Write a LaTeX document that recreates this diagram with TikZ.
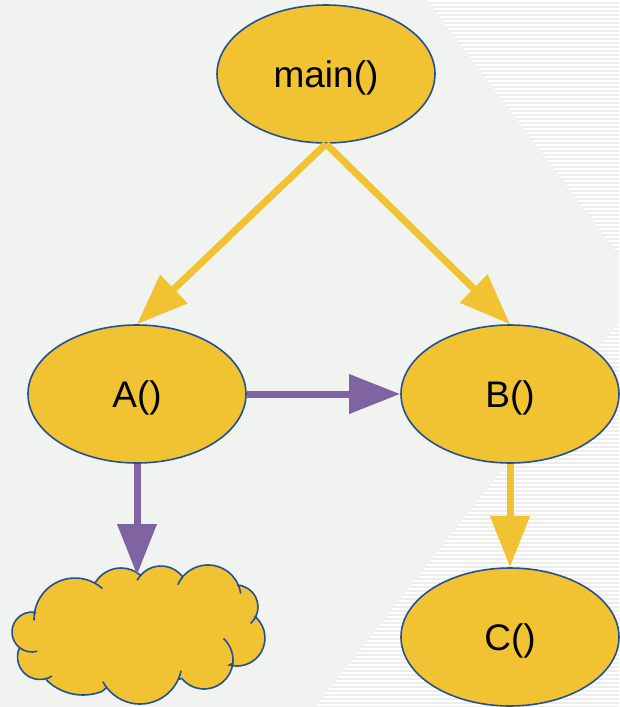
\documentclass[tikz,border=0pt]{standalone}
\usepackage{fontspec}
\setmainfont{Liberation Sans}
\usetikzlibrary{shapes.geometric,arrows.meta,calc}
\definecolor{bgcol}{HTML}{F1F3F0}
\definecolor{stripecol}{HTML}{EDEEEC}
\definecolor{callfill}{HTML}{F1C232}
\definecolor{callline}{HTML}{24528F}
\definecolor{callpurple}{HTML}{8064A2}
\tikzset{
  fn/.style={ellipse, draw=callline, line width=1.6pt, fill=callfill,
    minimum width=218pt, minimum height=138pt, inner sep=0pt,
    text height=35pt, text depth=7.6pt,
    font=\fontsize{37}{40}\selectfont},
  yarrow/.style={draw=callfill, line width=7pt,
    -{Triangle[length=51pt,width=38pt]}},
  parrow/.style={draw=callpurple, line width=7pt,
    -{Triangle[length=51pt,width=38pt]}},
  puffline/.style={draw=callline, line width=1.6pt},
}
% one puff of the cloud: centre x, centre y, radius, start angle, end angle
\newcommand\puffarc[5]{-- ($(#1,#2)+(#4:#3pt)$) arc[start angle=#4, end angle=#5, radius=#3pt]}
\newcommand\pufftail[5]{\draw[puffline] ($(#1,#2)+(#4:#3pt)$) arc[start angle=#4, end angle=#5, radius=#3pt];}
\begin{document}
\begin{tikzpicture}[x=1pt,y=-1pt]
\useasboundingbox (0,0) rectangle (619,707);
% background with striped corners
\fill[bgcol] (0,0) rectangle (619,707);
\begin{scope}
  \clip (427,0) -- (619,0) -- (619,255) -- cycle
        (619,322) -- (619,707) -- (315,707) -- cycle;
  \fill[stripecol] (300,0) rectangle (619,707);
  \foreach \y in {0,4,...,708} {
    \fill[white] (300,\y) rectangle (619,\y+2);
  }
\end{scope}
% call graph nodes
\node[fn] (main) at (326,74) {main()};
\node[fn] (A) at (137,394) {A()};
\node[fn] (B) at (510,394) {B()};
\node[fn] (C) at (510,637) {C()};
% the cloud: an outline of circular puffs
\fill[callfill] (35,613)
  \puffarc{75}{619}{41}{171.5}{62.8}
  \puffarc{121}{598}{30}{149.3}{49}
  \puffarc{161}{593}{27}{138}{37.3}
  \puffarc{208}{598}{33}{141.1}{22.5}
  \puffarc{236}{607}{22}{87.3}{-24.2}
  \puffarc{237}{638}{28}{49.2}{-105.6}
  \puffarc{204}{660}{29}{-6.6}{-140.2}
  \puffarc{140}{662}{42}{-24.2}{-142.6}
  \puffarc{83}{643}{52}{-68.4}{-134.2}
  \puffarc{40}{657}{22.5}{-73.1}{-206.6}
  \puffarc{32}{632}{20}{231.3}{81}
  -- cycle;
\draw[puffline] (35,613)
  \puffarc{75}{619}{41}{171.5}{62.8}
  \puffarc{121}{598}{30}{149.3}{49}
  \puffarc{161}{593}{27}{138}{37.3}
  \puffarc{208}{598}{33}{141.1}{22.5}
  \puffarc{236}{607}{22}{87.3}{-24.2}
  \puffarc{237}{638}{28}{49.2}{-105.6}
  \puffarc{204}{660}{29}{-6.6}{-140.2}
  \puffarc{140}{662}{42}{-24.2}{-142.6}
  \puffarc{83}{643}{52}{-68.4}{-134.2}
  \puffarc{40}{657}{22.5}{-73.1}{-206.6}
  \puffarc{32}{632}{20}{231.3}{81}
  -- cycle;
% inner ends of the puffs
\pufftail{75}{619}{41}{62.8}{48}
\pufftail{75}{619}{41}{171.5}{182}
\pufftail{161}{593}{27}{138}{152}
\pufftail{208}{598}{33}{141.1}{156}
\pufftail{208}{598}{33}{22.5}{8}
\pufftail{236}{607}{22}{-24.2}{-48}
\pufftail{204}{660}{29}{-6.6}{48}
\pufftail{140}{662}{42}{-24.2}{-12}
\pufftail{140}{662}{42}{-142.6}{-152}
\pufftail{40}{657}{22.5}{-73.1}{-58}
\pufftail{32}{632}{20}{231.3}{285}
\coordinate (cloudtop) at (139,575);
% calls
\draw[yarrow] (main.south) -- (A.north);
\draw[yarrow] (main.south) -- (B.north);
\draw[yarrow] (B.south) -- (C.north);
\draw[parrow] (A.east) -- (B.west);
\draw[parrow] (A.south) -- (A.south |- cloudtop);
\end{tikzpicture}
\end{document}
